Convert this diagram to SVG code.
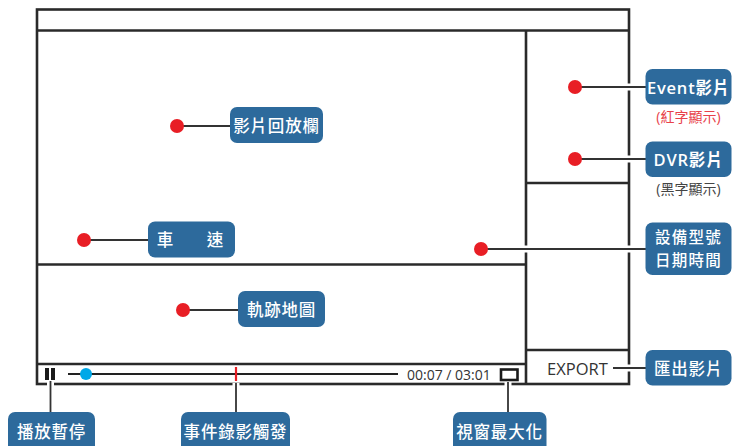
<svg xmlns="http://www.w3.org/2000/svg" width="732" height="446" viewBox="0 0 732 446">
<style>
.frame{fill:none;stroke:#2a2a2a;stroke-width:2.6}
.halo{stroke:#ffffff;stroke-width:7;fill:none}
.wire{stroke:#333333;stroke-width:1.8;fill:none}
.dot{fill:#e81e25}
.box{fill:#2d6a9c}
.lbl{fill:#ffffff;font-family:"Open Sans","Noto Sans CJK TC",sans-serif;font-size:16.5px;font-weight:500;text-anchor:middle;dominant-baseline:central;letter-spacing:0.8px}
.lat{font-weight:600}
.two{font-size:15.5px;letter-spacing:1.2px}
.note{font-family:"Open Sans","Noto Sans CJK TC",sans-serif;font-size:14px;text-anchor:middle;dominant-baseline:central}
.ui{fill:#333333;font-family:"Open Sans","Liberation Sans",sans-serif}
</style>
<rect width="732" height="446" fill="#ffffff"/>
<g id="screen">
  <rect class="frame" x="37" y="9.5" width="592" height="374.5"/>
  <line class="frame" x1="37" y1="30.5" x2="629" y2="30.5"/>
  <line class="frame" x1="526" y1="30.5" x2="526" y2="384"/>
  <line class="frame" x1="526" y1="183" x2="629" y2="183"/>
  <line class="frame" x1="526" y1="350" x2="629" y2="350"/>
  <line class="frame" x1="37" y1="264.5" x2="526" y2="264.5"/>
  <line class="frame" x1="37" y1="364" x2="526" y2="364"/>
  <rect x="45" y="368" width="4" height="12" fill="#1a1a1a"/>
  <rect x="51" y="368" width="4" height="12" fill="#1a1a1a"/>
  <line x1="68" y1="374" x2="398" y2="374" stroke="#222222" stroke-width="2.2"/>
  <circle cx="86" cy="374" r="6" fill="#00a8e8"/>
  <line x1="236" y1="367" x2="236" y2="381" stroke="#e81e25" stroke-width="2.2"/>
  <text class="ui" x="407" y="380" font-size="14">00:07 / 03:01</text>
  <rect x="501" y="369.5" width="16.5" height="10.5" fill="none" stroke="#1a1a1a" stroke-width="2.6"/>
  <text class="ui" x="547" y="375" font-size="16.5">EXPORT</text>
</g>
<g id="connectors">
  <line class="halo" x1="582" y1="87" x2="645" y2="87"/>
  <line class="halo" x1="582" y1="159" x2="645" y2="159"/>
  <line class="halo" x1="488" y1="249" x2="645" y2="249"/>
  <line class="halo" x1="613" y1="368" x2="645" y2="368"/>
  <line class="halo" x1="50.5" y1="382" x2="50.5" y2="412"/>
  <line class="halo" x1="236" y1="383" x2="236" y2="412"/>
  <line class="halo" x1="508" y1="382" x2="508" y2="412"/>
  <line class="wire" x1="177" y1="126" x2="230" y2="126"/>
  <line class="wire" x1="84" y1="240" x2="148" y2="240"/>
  <line class="wire" x1="183" y1="310" x2="238" y2="310"/>
  <line class="wire" x1="575" y1="87" x2="646" y2="87"/>
  <line class="wire" x1="575" y1="159" x2="646" y2="159"/>
  <line class="wire" x1="481" y1="249" x2="646" y2="249"/>
  <line class="wire" x1="613" y1="368" x2="646" y2="368"/>
  <line class="wire" x1="50.5" y1="381" x2="50.5" y2="413"/>
  <line class="wire" x1="236" y1="383" x2="236" y2="413"/>
  <line class="wire" x1="508" y1="382" x2="508" y2="413"/>
  <circle class="dot" cx="177" cy="126" r="7"/>
  <circle class="dot" cx="84" cy="240" r="7"/>
  <circle class="dot" cx="183" cy="310" r="7"/>
  <circle class="dot" cx="575" cy="87" r="7"/>
  <circle class="dot" cx="575" cy="159" r="7"/>
  <circle class="dot" cx="481" cy="249" r="7"/>
</g>
<g id="n-playback">
  <rect class="box" x="230" y="107" width="93" height="36" rx="7"/>
  <text class="lbl" x="276.5" y="125">影片回放欄</text>
</g>
<g id="n-speed">
  <rect class="box" x="148" y="221.5" width="87" height="36" rx="7"/>
  <text class="lbl" x="165.5" y="239.5">車</text>
  <text class="lbl" x="215.5" y="239.5">速</text>
</g>
<g id="n-map">
  <rect class="box" x="238" y="291" width="87" height="36" rx="7"/>
  <text class="lbl" x="281.5" y="309">軌跡地圖</text>
</g>
<g id="n-event">
  <rect class="box" x="645.5" y="69" width="86" height="35.5" rx="7"/>
  <text class="lbl lat" x="688.5" y="87">Event影片</text>
  <text class="note" x="688.5" y="116.5" fill="#e8424a">(紅字顯示)</text>
</g>
<g id="n-dvr">
  <rect class="box" x="645.5" y="141.5" width="86" height="35.5" rx="7"/>
  <text class="lbl lat" x="688.5" y="159.5">DVR影片</text>
  <text class="note" x="688.5" y="188" fill="#444444">(黑字顯示)</text>
</g>
<g id="n-device">
  <rect class="box" x="645.5" y="222.5" width="86" height="52.5" rx="7"/>
  <text class="lbl two" x="688.5" y="237">設備型號</text>
  <text class="lbl two" x="688.5" y="260">日期時間</text>
</g>
<g id="n-export">
  <rect class="box" x="645.5" y="350" width="86" height="35.5" rx="7"/>
  <text class="lbl" x="688.5" y="368">匯出影片</text>
</g>
<g id="n-pause">
  <rect class="box" x="8" y="412" width="87" height="42" rx="7"/>
  <text class="lbl" x="51.5" y="431">播放暫停</text>
</g>
<g id="n-trigger">
  <rect class="box" x="181" y="412" width="109" height="42" rx="7"/>
  <text class="lbl" x="235.5" y="431">事件錄影觸發</text>
</g>
<g id="n-maximize">
  <rect class="box" x="453" y="412" width="93.5" height="42" rx="7"/>
  <text class="lbl" x="499.5" y="431">視窗最大化</text>
</g>
</svg>
